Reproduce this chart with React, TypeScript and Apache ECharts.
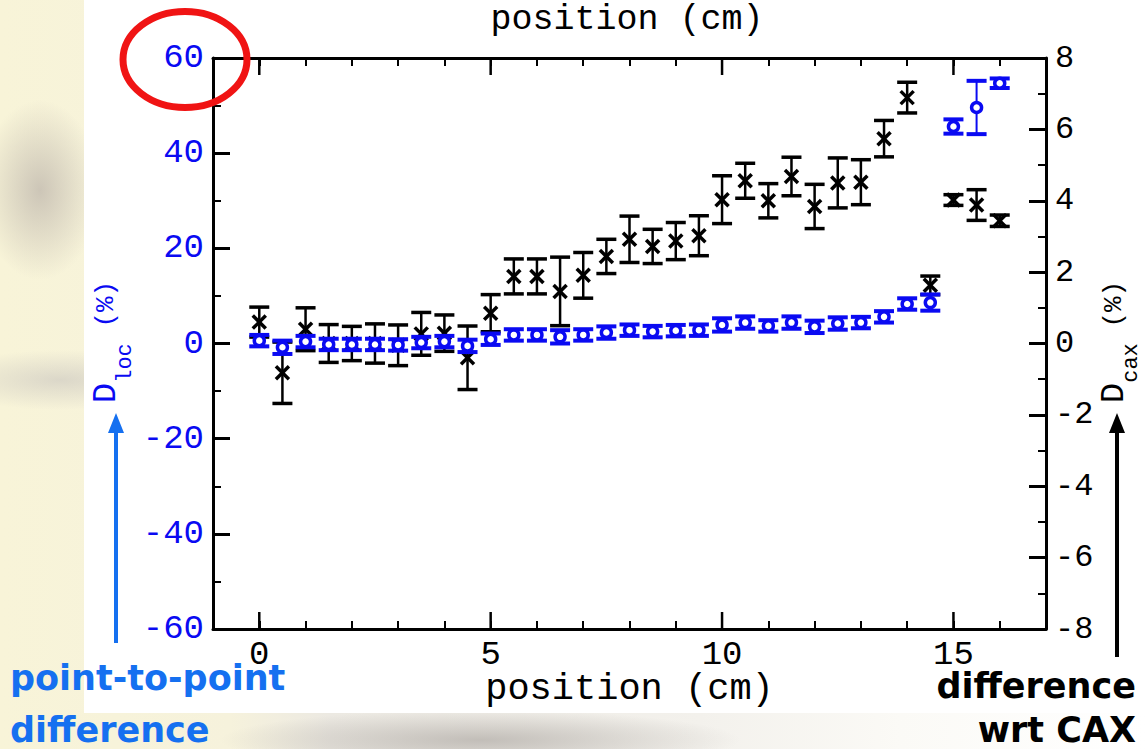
import React, { useEffect, useRef } from 'react';
import * as echarts from 'echarts';

// ---- data ----
const positions = [0, 0.5, 1, 1.5, 2, 2.5, 3, 3.5, 4, 4.5, 5, 5.5, 6, 6.5, 7, 7.5, 8, 8.5, 9, 9.5, 10, 10.5, 11, 11.5, 12, 12.5, 13, 13.5, 14, 14.5, 15, 15.5, 16];
// D_loc (%) point-to-point difference, left axis
const dLocValues = [0.6, -0.8, 0.4, -0.2, -0.2, -0.2, -0.3, 0.2, 0.4, -0.5, 0.9, 1.8, 1.8, 1.4, 1.8, 2.3, 2.8, 2.5, 2.7, 2.8, 3.9, 4.4, 3.7, 4.4, 3.5, 4.2, 4.4, 5.6, 8.3, 8.6, 45.6, 49.6, 54.7];
const dLocErrors = [1.2, 1.4, 1.2, 1.2, 1.2, 1.2, 1.2, 1.2, 1.2, 1.3, 1.2, 1.2, 1.2, 1.4, 1.2, 1.3, 1.2, 1.2, 1.2, 1.2, 1.4, 1.3, 1.2, 1.3, 1.3, 1.3, 1.2, 1.2, 1.2, 1.7, 1.5, 5.6, 1.0];
// D_cax (%) difference wrt CAX, right axis
const dCaxValues = [0.6, -0.82, 0.4, 0.0, 0.0, 0.0, -0.05, 0.27, 0.29, -0.4, 0.85, 1.88, 1.88, 1.46, 1.91, 2.44, 2.92, 2.72, 2.87, 3.02, 4.03, 4.56, 4.0, 4.68, 3.84, 4.5, 4.52, 5.74, 6.89, 1.63, 4.02, 3.88, 3.44];
const dCaxErrors = [0.42, 0.86, 0.6, 0.53, 0.48, 0.55, 0.57, 0.6, 0.51, 0.89, 0.52, 0.49, 0.49, 0.96, 0.64, 0.48, 0.65, 0.48, 0.52, 0.56, 0.67, 0.49, 0.48, 0.54, 0.62, 0.7, 0.63, 0.51, 0.43, 0.26, 0.15, 0.43, 0.16];

const xLabeledTicks = [0, 5, 10, 15];
const xRange = [-1, 17];
const dLocRange = [-60, 60];
const dCaxRange = [-8, 8];

const MONO = '"Liberation Mono", "DejaVu Sans Mono", "Courier New", monospace';
const SANS = '"DejaVu Sans", "Open Sans", sans-serif';
const BLUE = '#0a0af2';
const ANNO_BLUE = '#1570f0';

function errorBarRenderer(kind: 'circle' | 'cross', color: string, barW: number, capW: number) {
  return (params: any, api: any) => {
    const x = api.value(0);
    const y = api.value(1);
    const e = api.value(2);
    const c = api.coord([x, y]);
    const top = api.coord([x, y + e]);
    const bot = api.coord([x, y - e]);
    const hw = 10;
    const children: any[] = [
      { type: 'line', shape: { x1: c[0], y1: top[1], x2: c[0], y2: bot[1] }, style: { stroke: color, lineWidth: barW } },
      { type: 'line', shape: { x1: c[0] - hw, y1: top[1], x2: c[0] + hw, y2: top[1] }, style: { stroke: color, lineWidth: capW } },
      { type: 'line', shape: { x1: c[0] - hw, y1: bot[1], x2: c[0] + hw, y2: bot[1] }, style: { stroke: color, lineWidth: capW } },
    ];
    if (kind === 'circle') {
      children.push({ type: 'circle', shape: { cx: c[0], cy: c[1], r: 5 }, style: { fill: '#ffffff', stroke: color, lineWidth: 3.5 } });
    } else {
      const s = 6.5;
      children.push({ type: 'line', shape: { x1: c[0] - s, y1: c[1] - s, x2: c[0] + s, y2: c[1] + s }, style: { stroke: color, lineWidth: 3.5 } });
      children.push({ type: 'line', shape: { x1: c[0] - s, y1: c[1] + s, x2: c[0] + s, y2: c[1] - s }, style: { stroke: color, lineWidth: 3.5 } });
    }
    return { type: 'group', children };
  };
}

function majorTickRenderer(params: any, api: any) {
  const x = api.value(0);
  const b = api.coord([x, dLocRange[0]]);
  const t = api.coord([x, dLocRange[1]]);
  return {
    type: 'group',
    children: [
      { type: 'line', shape: { x1: b[0], y1: b[1], x2: b[0], y2: b[1] - 17 }, style: { stroke: '#000', lineWidth: 2.5 } },
      { type: 'line', shape: { x1: t[0], y1: t[1], x2: t[0], y2: t[1] + 17 }, style: { stroke: '#000', lineWidth: 2.5 } },
    ],
  };
}

export default function App() {
  const ref = useRef<HTMLDivElement>(null);

  useEffect(() => {
    if (!ref.current) return;
    const chart = echarts.init(ref.current, undefined, { renderer: 'svg' });

    const xAxisCommon = {
      type: 'value',
      min: xRange[0],
      max: xRange[1],
      interval: 1,
      splitLine: { show: false },
      axisLine: { show: true, onZero: false, lineStyle: { color: '#000', width: 3 } },
      axisTick: { show: true, inside: true, length: 8, lineStyle: { color: '#000', width: 2 } },
    };
    const yTick = {
      axisLine: { show: true, onZero: false, lineStyle: { color: '#000', width: 3 } },
      axisTick: { show: true, inside: true, length: 17, lineStyle: { color: '#000', width: 3 } },
      minorTick: { show: true, splitNumber: 2, length: 8, lineStyle: { color: '#000', width: 2 } },
      splitLine: { show: false },
      minorSplitLine: { show: false },
    };

    const blackData = positions.map((p, i) => [p, dCaxValues[i], dCaxErrors[i]]);
    const blueData = positions.map((p, i) => [p, dLocValues[i], dLocErrors[i]]);

    chart.setOption({
      animation: false,
      grid: { left: 213, top: 58, width: 833, height: 571, containLabel: false },
      xAxis: [
        {
          ...xAxisCommon,
          position: 'bottom',
          axisLabel: {
            formatter: (v: number) => (xLabeledTicks.includes(v) ? String(v) : ''),
            fontFamily: MONO,
            fontSize: 34,
            lineHeight: 30,
            color: '#000',
            margin: 11,
          },
          name: 'position (cm)',
          nameLocation: 'middle',
          nameGap: 44,
          nameMoveOverlap: false,
          nameTextStyle: { fontFamily: MONO, fontSize: 37, color: '#000', lineHeight: 32 },
        },
        {
          ...xAxisCommon,
          position: 'top',
          axisLabel: { show: false },
        },
      ],
      yAxis: [
        {
          type: 'value',
          position: 'left',
          min: dLocRange[0],
          max: dLocRange[1],
          interval: 20,
          ...yTick,
          axisLabel: { fontFamily: MONO, fontSize: 34, color: BLUE, margin: 9 },
        },
        {
          type: 'value',
          position: 'right',
          min: dCaxRange[0],
          max: dCaxRange[1],
          interval: 2,
          ...yTick,
          axisLabel: { fontFamily: MONO, fontSize: 32, color: '#000', margin: 9 },
        },
      ],
      series: [
        {
          type: 'custom',
          name: 'x major ticks',
          xAxisIndex: 0,
          yAxisIndex: 0,
          silent: true,
          data: xLabeledTicks.map((v) => [v, 0]),
          encode: { x: 0, y: 1 },
          renderItem: majorTickRenderer,
          z: 1,
        },
        {
          type: 'custom',
          name: 'D_cax',
          xAxisIndex: 0,
          yAxisIndex: 1,
          data: blackData,
          encode: { x: 0, y: 1 },
          renderItem: errorBarRenderer('cross', '#000', 2.5, 3.5),
          z: 3,
        },
        {
          type: 'custom',
          name: 'D_loc',
          xAxisIndex: 0,
          yAxisIndex: 0,
          data: blueData,
          encode: { x: 0, y: 1 },
          renderItem: errorBarRenderer('circle', BLUE, 2, 4),
          z: 4,
        },
      ],
      graphic: {
        elements: [
          {
            type: 'text',
            x: 627,
            y: 20,
            style: { text: 'position (cm)', fontFamily: MONO, fontSize: 35, lineHeight: 30, fill: '#000', align: 'center', verticalAlign: 'middle' },
          },
          {
            type: 'text',
            x: 106,
            y: 342,
            rotation: Math.PI / 2,
            style: {
              text: '{d|D}{s|loc}{p| (%)}',
              align: 'center',
              verticalAlign: 'middle',
              rich: {
                d: { fontFamily: MONO, fontSize: 34, fill: BLUE, lineHeight: 60, verticalAlign: 'middle' },
                s: { fontFamily: MONO, fontSize: 22, fill: BLUE, lineHeight: 22, verticalAlign: 'bottom' },
                p: { fontFamily: MONO, fontSize: 26, fill: BLUE, lineHeight: 60, verticalAlign: 'middle' },
              },
            },
          },
          {
            type: 'text',
            x: 1114,
            y: 342,
            rotation: Math.PI / 2,
            style: {
              text: '{d|D}{s|cax}{p| (%)}',
              align: 'center',
              verticalAlign: 'middle',
              rich: {
                d: { fontFamily: MONO, fontSize: 34, fill: '#000', lineHeight: 56, verticalAlign: 'middle' },
                s: { fontFamily: MONO, fontSize: 22, fill: '#000', lineHeight: 22, verticalAlign: 'bottom' },
                p: { fontFamily: MONO, fontSize: 26, fill: '#000', lineHeight: 56, verticalAlign: 'middle' },
              },
            },
          },
          {
            type: 'ellipse',
            z: 100,
            shape: { cx: 185, cy: 59.5, rx: 62, ry: 48 },
            style: { fill: 'none', stroke: '#f01414', lineWidth: 7 },
          },
          {
            type: 'line',
            z: 100,
            shape: { x1: 116, y1: 643, x2: 116, y2: 428 },
            style: { stroke: ANNO_BLUE, lineWidth: 4 },
          },
          {
            type: 'polygon',
            z: 100,
            shape: { points: [[116, 413], [108, 433], [124, 433]] },
            style: { fill: ANNO_BLUE },
          },
          {
            type: 'line',
            z: 100,
            shape: { x1: 1117, y1: 657, x2: 1117, y2: 428 },
            style: { stroke: '#000', lineWidth: 4 },
          },
          {
            type: 'polygon',
            z: 100,
            shape: { points: [[1117, 413], [1109, 433], [1125, 433]] },
            style: { fill: '#000' },
          },
          {
            type: 'text',
            z: 100,
            x: 10,
            y: 678,
            style: { text: 'point-to-point', fontFamily: SANS, fontWeight: 'bold', fontSize: 35, lineHeight: 35, fill: ANNO_BLUE, align: 'left', verticalAlign: 'middle' },
          },
          {
            type: 'text',
            z: 100,
            x: 10,
            y: 730,
            style: { text: 'difference', fontFamily: SANS, fontWeight: 'bold', fontSize: 35, lineHeight: 35, fill: ANNO_BLUE, align: 'left', verticalAlign: 'middle' },
          },
          {
            type: 'text',
            z: 100,
            x: 1136,
            y: 686,
            style: { text: 'difference', fontFamily: SANS, fontWeight: 'bold', fontSize: 35, lineHeight: 35, fill: '#000', align: 'right', verticalAlign: 'middle' },
          },
          {
            type: 'text',
            z: 100,
            x: 1136,
            y: 730,
            style: { text: 'wrt CAX', fontFamily: SANS, fontWeight: 'bold', fontSize: 35, lineHeight: 35, fill: '#000', align: 'right', verticalAlign: 'middle' },
          },
        ],
      },
    });

    return () => {
      chart.dispose();
    };
  }, []);

  return (
    <div
      style={{
        position: 'fixed',
        left: 0,
        top: 0,
        width: 1145,
        height: 749,
        overflow: 'hidden',
        background:
          'radial-gradient(ellipse 60px 90px at 40px 190px, rgba(190,182,172,0.75), rgba(190,182,172,0) 100%),' +
          'radial-gradient(ellipse 120px 30px at 60px 380px, rgba(200,196,190,0.6), rgba(200,196,190,0) 100%),' +
          'radial-gradient(ellipse 260px 30px at 480px 740px, rgba(175,170,165,0.7), rgba(175,170,165,0) 100%),' +
          'linear-gradient(90deg, #f8f4d8 0px, #f6f2dc 230px, #ece9e2 330px, #f3f1ec 700px, #fbfaf6 900px, #ffffff 1145px)',
      }}
    >
      <div style={{ position: 'absolute', left: 84, top: 0, width: 1061, height: 713, background: '#ffffff' }} />
      <div ref={ref} style={{ position: 'absolute', left: 0, top: 0, width: 1145, height: 749 }} />
    </div>
  );
}
